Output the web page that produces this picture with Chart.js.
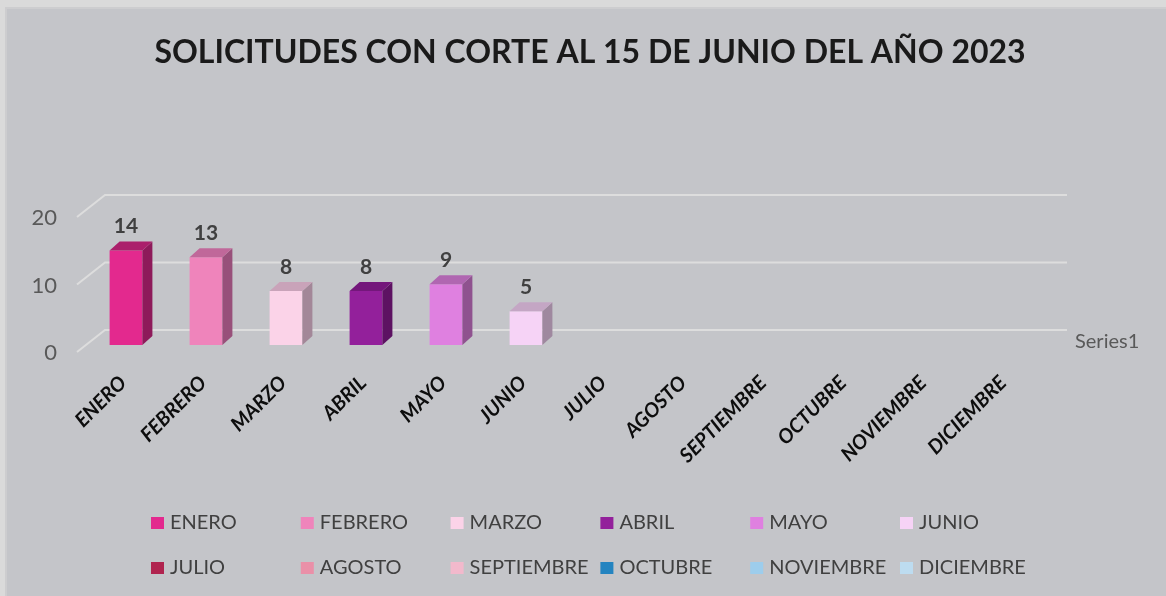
<!DOCTYPE html>
<html><head><meta charset="utf-8">
<script src="https://cdn.jsdelivr.net/npm/chart.js@4.4.0/dist/chart.umd.min.js"></script>
<style>
html,body{margin:0;padding:0;background:#dadada;width:1166px;height:596px;overflow:hidden;}
#frame{position:absolute;left:5px;top:7px;width:1170px;height:600px;background:#c4c5c9;border-top:2px solid #cdcdcf;border-left:2px solid #cdcdcf;}
#c{position:absolute;left:7px;top:9px;}
</style></head>
<body>
<div id="frame"></div>
<canvas id="c" width="1166" height="587"></canvas>
<script>
const titleText = 'SOLICITUDES CON CORTE AL 15 DE JUNIO DEL AÑO 2023';
const categories = ['ENERO','FEBRERO','MARZO','ABRIL','MAYO','JUNIO','JULIO','AGOSTO','SEPTIEMBRE','OCTUBRE','NOVIEMBRE','DICIEMBRE'];
const values = [14, 13, 8, 8, 9, 5, null, null, null, null, null, null];
const yTicks = [0, 10, 20];
const seriesName = 'Series1';

const frontColors = ['#e3298e','#ef84bb','#fbd3e8','#93209b','#df80e0','#f6d3f6','#b0244f','#ea90a8','#f2b9cc','#2484c0','#9dcdec','#bddcf0'];
const topColors   = ['#ab1f6b','#c0689a','#c9a3b9','#74177b','#b066b1','#c4a6c4','#8a1c3e','#b87284','#c092a2','#1c6898','#7ca2ba','#95aebe'];
const sideColors  = ['#8e1a5a','#98507a','#a38798','#5d1262','#8f528f','#9f889f','#701730','#945d6b','#9b7783','#175479','#648395','#798d9a'];

const DX = 10, DY = -9;

const depthPlugin = {
  id: 'depth',
  beforeDatasetsDraw(chart) {
    const {ctx, chartArea: a, scales: {y}} = chart;
    ctx.save();
    ctx.strokeStyle = '#dddddd';
    ctx.lineWidth = 2;
    y.ticks.forEach(t => {
      const py = y.getPixelForValue(t.value);
      ctx.beginPath();
      ctx.moveTo(a.left - 9, py + 7);
      ctx.lineTo(a.left + 19, py - 15);
      ctx.lineTo(a.right + 21, py - 15);
      ctx.stroke();
    });
    ctx.restore();
  },
  afterDatasetsDraw(chart) {
    const {ctx, chartArea: a} = chart;
    const meta = chart.getDatasetMeta(0);
    ctx.save();
    meta.data.forEach((bar, i) => {
      const v = values[i];
      if (v == null) return;
      const {x, y, base, width} = bar.getProps(['x','y','base','width'], true);
      const l = x - width / 2, r = x + width / 2;
      ctx.fillStyle = sideColors[i];
      ctx.beginPath();
      ctx.moveTo(r, y); ctx.lineTo(r + DX, y + DY); ctx.lineTo(r + DX, base + DY); ctx.lineTo(r, base);
      ctx.closePath(); ctx.fill();
      ctx.fillStyle = topColors[i];
      ctx.beginPath();
      ctx.moveTo(l, y); ctx.lineTo(l + DX, y + DY); ctx.lineTo(r + DX, y + DY); ctx.lineTo(r, y);
      ctx.closePath(); ctx.fill();
      ctx.fillStyle = '#404040';
      ctx.font = 'bold 21px Lato';
      ctx.textAlign = 'center';
      ctx.textBaseline = 'middle';
      ctx.fillText(String(v), x, y - 24);
    });
    ctx.fillStyle = '#595959';
    ctx.font = '20px Lato';
    ctx.textAlign = 'left';
    ctx.textBaseline = 'middle';
    ctx.fillText(seriesName, a.right + 29, a.bottom - 3);
    ctx.restore();
  },
  afterDraw(chart) {
    const ctx = chart.ctx;
    ctx.save();
    ctx.font = '20px Lato';
    ctx.textAlign = 'left';
    ctx.textBaseline = 'middle';
    categories.forEach((c, i) => {
      const col = i % 6, row = Math.floor(i / 6);
      const mx = 144 + col * 149.8;
      const my = 514 + row * 45;
      ctx.fillStyle = frontColors[i];
      ctx.fillRect(mx, my - 6, 13, 12);
      ctx.fillStyle = '#404040';
      ctx.fillText(c, mx + 19, my);
    });
    ctx.restore();
  }
};

new Chart(document.getElementById('c'), {
  type: 'bar',
  data: {
    labels: categories,
    datasets: [{
      label: seriesName,
      data: values,
      backgroundColor: frontColors,
      borderWidth: 0,
      categoryPercentage: 0.41,
      barPercentage: 1,
      yAxisID: 'y'
    }]
  },
  options: {
    responsive: false,
    animation: false,
    devicePixelRatio: 1,
    layout: {padding: 0},
    plugins: {
      legend: {display: false},
      tooltip: {enabled: false},
      title: {
        display: true,
        text: titleText,
        color: '#1a1a1a',
        font: {family: 'Lato', size: 32, weight: 'bold', lineHeight: 1.2},
        padding: {top: 24, bottom: 138.6}
      }
    },
    scales: {
      x: {
        grid: {display: false, drawTicks: false},
        border: {display: false},
        ticks: {
          autoSkip: false, minRotation: 45, maxRotation: 45, padding: 26, labelOffset: -3,
          color: '#0d0d0d',
          font: {family: 'Lato', size: 20, weight: 'bold', style: 'italic'}
        },
        afterFit(s) { s.height = 251; }
      },
      y: {
        min: 0, max: 20,
        afterBuildTicks(s) { s.ticks = yTicks.map(v => ({value: v})); },
        grid: {display: false, drawTicks: false},
        border: {display: false},
        ticks: {padding: 29, labelOffset: 8, color: '#595959', font: {family: 'Lato', size: 22}},
        afterFit(s) { s.width = 79; }
      },
      yDepth: {
        type: 'linear',
        position: 'right',
        display: true,
        grid: {display: false, drawTicks: false},
        border: {display: false},
        ticks: {display: false},
        afterFit(s) { s.width = 127; }
      }
    }
  },
  plugins: [depthPlugin]
});
</script>
</body></html>
